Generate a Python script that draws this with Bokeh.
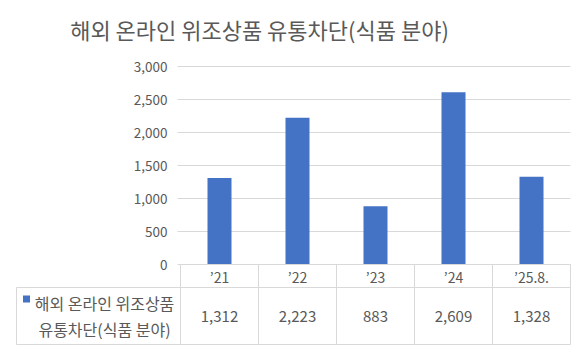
from bokeh.plotting import figure
from bokeh.models import Range1d, ColumnDataSource
from bokeh.core.properties import value
from bokeh.embed import file_html
from bokeh.resources import INLINE

# ---------------- data ----------------
categories = ["\u201921", "\u201922", "\u201923", "\u201924", "\u201925.8."]
values = [1312, 2223, 883, 2609, 1328]
y_ticks = [0, 500, 1000, 1500, 2000, 2500, 3000]
y_tick_labels = ["0", "500", "1,000", "1,500", "2,000", "2,500", "3,000"]
title_text = "해외 온라인 위조상품 유통차단(식품 분야)"
series_lines = ["해외 온라인 위조상품", "유통차단(식품 분야)"]

# ---------------- layout (pixels) ----------------
W, H = 582, 348
X0, CW = 180, 78          # left edge of category area, width per category
Y0, PPU = 264, 33 / 500   # y pixel of zero, pixels per unit
N = len(categories)

def xd(px):
    return (px - X0) / CW

def yd(py):
    return (Y0 - py) / PPU

FONT = value("Noto Sans CJK KR")
TXT = "#595959"
GRID = "#D9D9D9"
BAR = "#4472C4"

p = figure(width=W, height=H, output_backend="svg", toolbar_location=None,
           x_range=Range1d(xd(0), xd(W)), y_range=Range1d(yd(H), yd(0)),
           min_border=0, outline_line_color=None)
p.axis.visible = False
p.grid.visible = False
p.background_fill_color = "white"

# gridlines
p.segment(x0=[xd(177)] * len(y_ticks), x1=[N] * len(y_ticks), y0=y_ticks, y1=y_ticks,
          line_color=GRID, line_width=1)

# bars
src = ColumnDataSource(dict(x=[i + 0.5 for i in range(N)], top=values, cat=categories,
                            lab=[f"{v:,}" for v in values]))
p.vbar(x="x", top="top", width=24 / CW, bottom=0, source=src, fill_color=BAR, line_color=None)

# y tick labels
p.text(x=[xd(167)] * len(y_ticks), y=y_ticks, text=y_tick_labels, text_align="right",
       text_baseline="middle", text_font=FONT, text_font_size="13.5px", text_color=TXT)

# title
p.text(x=[xd(259)], y=[yd(28)], text=[title_text], text_align="center",
       text_baseline="middle", text_font=FONT, text_font_size="22px", text_color=TXT)

# ---------------- data table ----------------
yh_top, yh_bot, yb_bot = yd(264), yd(287), yd(344)
# horizontal lines
p.segment(x0=[0, xd(16), xd(16)], x1=[N, N, N], y0=[yh_top, yh_bot, yb_bot],
          y1=[yh_top, yh_bot, yb_bot], line_color=GRID, line_width=1)
# vertical lines
vx = list(range(N + 1))
p.segment(x0=vx, x1=vx, y0=[yh_top] * len(vx), y1=[yb_bot] * len(vx),
          line_color=GRID, line_width=1)
p.segment(x0=[xd(16)], x1=[xd(16)], y0=[yh_bot], y1=[yb_bot], line_color=GRID, line_width=1)

# header labels
p.text(x="x", y=yd(276), text="cat", source=src, text_align="center", text_baseline="middle",
       text_font=FONT, text_font_size="14px", text_color=TXT)
# values
p.text(x="x", y=yd(316), text="lab", source=src, text_align="center", text_baseline="middle",
       text_font=FONT, text_font_size="15px", text_color=TXT)

# legend cell
p.rect(x=[xd(26)], y=[yd(298.5)], width=7 / CW, height=7 / PPU, fill_color=BAR, line_color=None)
p.text(x=[xd(104), xd(104)], y=[yd(302), yd(328)], text=series_lines, text_align="center",
       text_baseline="middle", text_font=FONT, text_font_size="16px", text_color=TXT)

open("out.html", "w").write(file_html(p, INLINE))
